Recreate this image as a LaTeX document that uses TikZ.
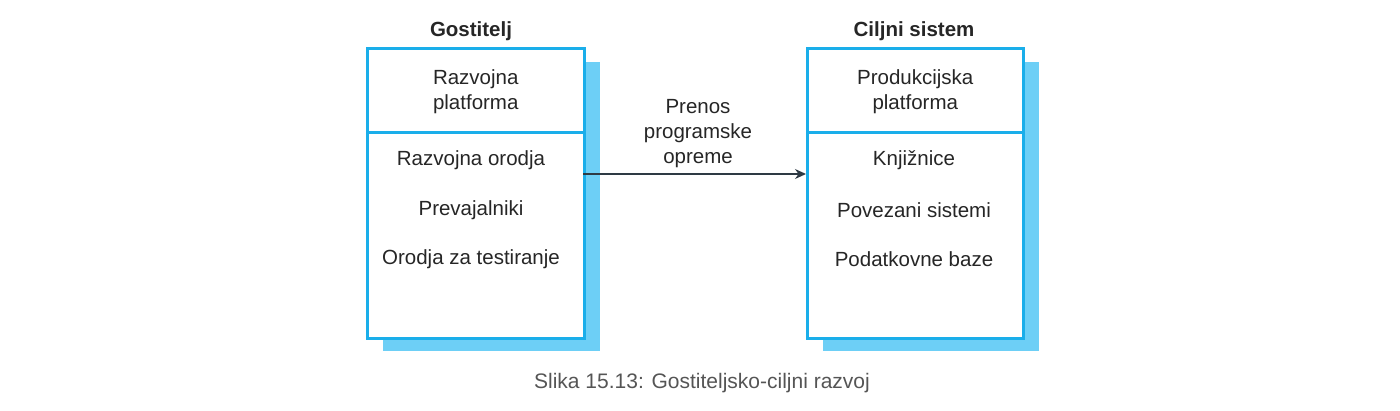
\documentclass[tikz,border=0pt]{standalone}
\usepackage{fontspec}
\setmainfont{Liberation Sans}
\usetikzlibrary{arrows.meta}
\definecolor{boxblue}{HTML}{1AAEEA}
\definecolor{shadeblue}{HTML}{6DCFF6}
\definecolor{arrowgray}{HTML}{2E3A44}
\definecolor{capgray}{HTML}{555555}
\begin{document}
\begin{tikzpicture}[x=1pt,y=-1pt]
        % Styles
        \tikzset{part/.style={draw=boxblue,line width=2.5pt,fill=white,inner sep=0pt,anchor=north west}}
        \tikzset{shade/.style={fill=shadeblue}}
        \tikzset{item/.style={font=\fontsize{20.5}{25}\selectfont,align=center,text=black!85}}
        \tikzset{title/.style={font=\fontsize{20.5}{25}\selectfont\bfseries,text=black!85}}
        \useasboundingbox (0,0) rectangle (1400,410);
        %host
        \fill[shade] (383,62) rectangle (600,351);
        \node[part,minimum width=217pt,minimum height=84pt] (hostTop) at (366,47) {};
        \node[part,minimum width=217pt,minimum height=206pt] (hostBot) at (366,131) {};
        \node[title] (hostName) at (471,31) {Gostitelj};
        \node[item] (hostPlat) at ([yshift=-1pt]hostTop) {Razvojna\\platforma};
        \node[item] (hostA) at (471,160) {Razvojna orodja};
        \node[item] (hostB) at (471,210) {Prevajalniki};
        \node[item] (hostC) at (471,259) {Orodja za testiranje};
        %target
        \fill[shade] (823,62) rectangle (1039,351);
        \node[part,minimum width=216pt,minimum height=84pt] (tgtTop) at (806,47) {};
        \node[part,minimum width=216pt,minimum height=206pt] (tgtBot) at (806,131) {};
        \node[title] (tgtName) at (914,31) {Ciljni sistem};
        \node[item] (tgtPlat) at ([yshift=-1pt]tgtTop) {Produkcijska\\platforma};
        \node[item] (tgtA) at (914,160) {Knjižnice};
        \node[item] (tgtB) at (914,210) {Povezani sistemi};
        \node[item] (tgtC) at (914,259) {Podatkovne baze};
        %transfer
        \coordinate (arrS) at (583,174);
        \draw[arrowgray,line width=1.4pt,-{Stealth[length=11pt,width=10pt]}] (arrS) -- (arrS -| tgtBot.west);
        \node[item] (arrLab) at (698,134) {Prenos\\programske\\opreme};
        %caption
        \node[text=capgray,font=\fontsize{21}{24}\selectfont] (caption) at (702,383) {Slika 15.13: Gostiteljsko-ciljni razvoj};
\end{tikzpicture}
\end{document}
